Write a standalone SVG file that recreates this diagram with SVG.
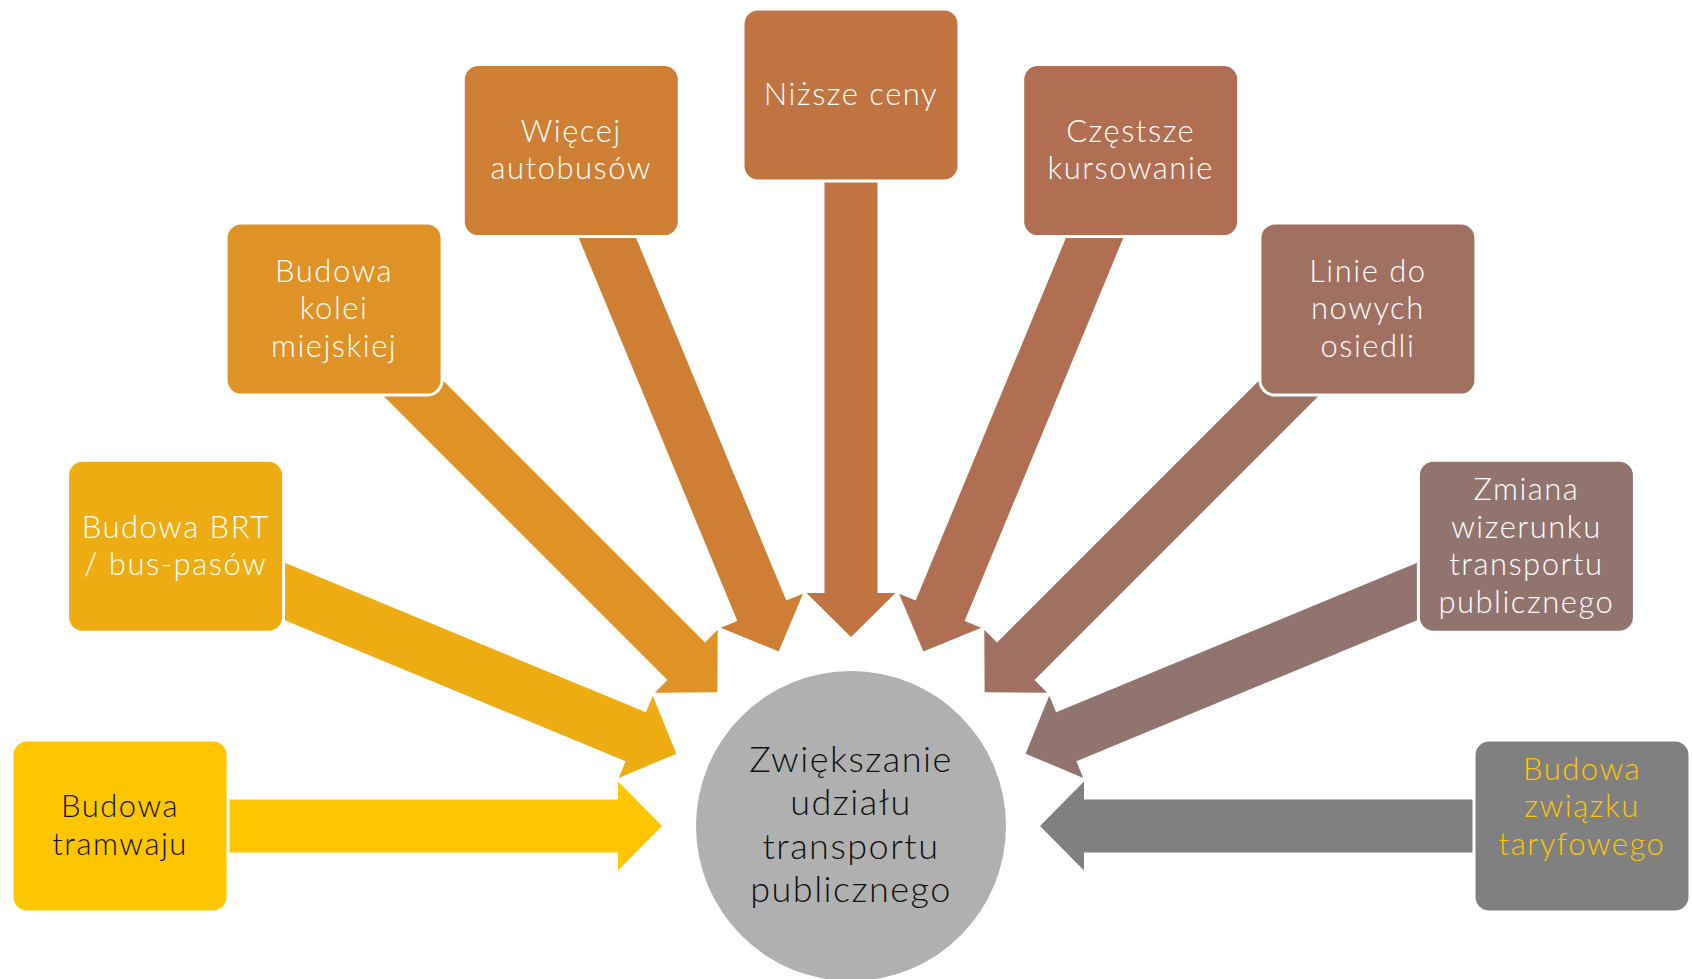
<svg xmlns="http://www.w3.org/2000/svg" xmlns:xlink="http://www.w3.org/1999/xlink" width="1692" height="979" viewBox="0 0 1692 979">
<style>
.box{stroke:#ffffff;stroke-width:3}
.t{font-family:"Lato","Open Sans","Liberation Sans",sans-serif;font-weight:300;font-size:31px;letter-spacing:1.5px;text-anchor:middle;fill:#ffffff}
.dark{fill:#111111}
.yel{fill:#FDC600}
.ct{font-family:"Lato","Open Sans","Liberation Sans",sans-serif;font-weight:300;font-size:36px;letter-spacing:1.5px;text-anchor:middle;fill:#111111}
</style>
<defs>
<path id="arr" d="M-189,0 L-233,-44.5 L-233,-26.5 L-731,-26.5 L-731,26.5 L-233,26.5 L-233,44.5 Z"/>
</defs>
<rect width="1692" height="979" fill="#ffffff"/>
<g id="connectors">
<use xlink:href="#arr" href="#arr" transform="translate(851 826) rotate(0)" fill="#FDC600"/>
<use xlink:href="#arr" href="#arr" transform="translate(851 826) rotate(22.5)" fill="#EEAC13"/>
<use xlink:href="#arr" href="#arr" transform="translate(851 826) rotate(45)" fill="#DF9326"/>
<use xlink:href="#arr" href="#arr" transform="translate(851 826) rotate(67.5)" fill="#CE7F33"/>
<use xlink:href="#arr" href="#arr" transform="translate(851 826) rotate(90)" fill="#C07442"/>
<use xlink:href="#arr" href="#arr" transform="translate(851 826) rotate(112.5)" fill="#B06F53"/>
<use xlink:href="#arr" href="#arr" transform="translate(851 826) rotate(135)" fill="#A07061"/>
<use xlink:href="#arr" href="#arr" transform="translate(851 826) rotate(157.5)" fill="#92746F"/>
<use xlink:href="#arr" href="#arr" transform="translate(851 826) rotate(180)" fill="#808080"/>
</g>
<g id="center">
<circle cx="851" cy="826" r="155" fill="#B0B0B0"/>
<text class="ct" x="851" y="772">Zwiększanie</text>
<text class="ct" x="851" y="815">udziału</text>
<text class="ct" x="851" y="859">transportu</text>
<text class="ct" x="851" y="902">publicznego</text>
</g>
<g id="n1">
<rect class="box" x="12" y="740" width="216" height="172" rx="15" fill="#FDC600"/>
<text class="t dark" x="120" y="817">Budowa</text>
<text class="t dark" x="120" y="855">tramwaju</text>
</g>
<g id="n2">
<rect class="box" x="67.6" y="460.3" width="216" height="172" rx="15" fill="#EEAC13"/>
<text class="t" x="175.6" y="537.5">Budowa BRT</text>
<text class="t" x="175.6" y="575">/ bus-pasów</text>
</g>
<g id="n3">
<rect class="box" x="226.1" y="223.1" width="216" height="172" rx="15" fill="#DF9326"/>
<text class="t" x="334.1" y="281.6">Budowa</text>
<text class="t" x="334.1" y="319.1">kolei</text>
<text class="t" x="334.1" y="356.6">miejskiej</text>
</g>
<g id="n4">
<rect class="box" x="463.3" y="64.6" width="216" height="172" rx="15" fill="#CE7F33"/>
<text class="t" x="571.3" y="141.9">Więcej</text>
<text class="t" x="571.3" y="179.4">autobusów</text>
</g>
<g id="n5">
<rect class="box" x="743" y="9" width="216" height="172" rx="15" fill="#C07442"/>
<text class="t" x="851" y="105">Niższe ceny</text>
</g>
<g id="n6">
<rect class="box" x="1022.7" y="64.6" width="216" height="172" rx="15" fill="#B06F53"/>
<text class="t" x="1130.7" y="141.9">Częstsze</text>
<text class="t" x="1130.7" y="179.4">kursowanie</text>
</g>
<g id="n7">
<rect class="box" x="1259.9" y="223.1" width="216" height="172" rx="15" fill="#A07061"/>
<text class="t" x="1367.9" y="281.6">Linie do</text>
<text class="t" x="1367.9" y="319.1">nowych</text>
<text class="t" x="1367.9" y="356.6">osiedli</text>
</g>
<g id="n8">
<rect class="box" x="1418.4" y="460.3" width="216" height="172" rx="15" fill="#92746F"/>
<text class="t" x="1526.4" y="500">Zmiana</text>
<text class="t" x="1526.4" y="537.5">wizerunku</text>
<text class="t" x="1526.4" y="575">transportu</text>
<text class="t" x="1526.4" y="612.5">publicznego</text>
</g>
<g id="n9">
<rect class="box" x="1474" y="740" width="216" height="172" rx="15" fill="#808080"/>
<text class="t yel" x="1582" y="779.7">Budowa</text>
<text class="t yel" x="1582" y="817.2">związku</text>
<text class="t yel" x="1582" y="854.7">taryfowego</text>
</g>
</svg>
